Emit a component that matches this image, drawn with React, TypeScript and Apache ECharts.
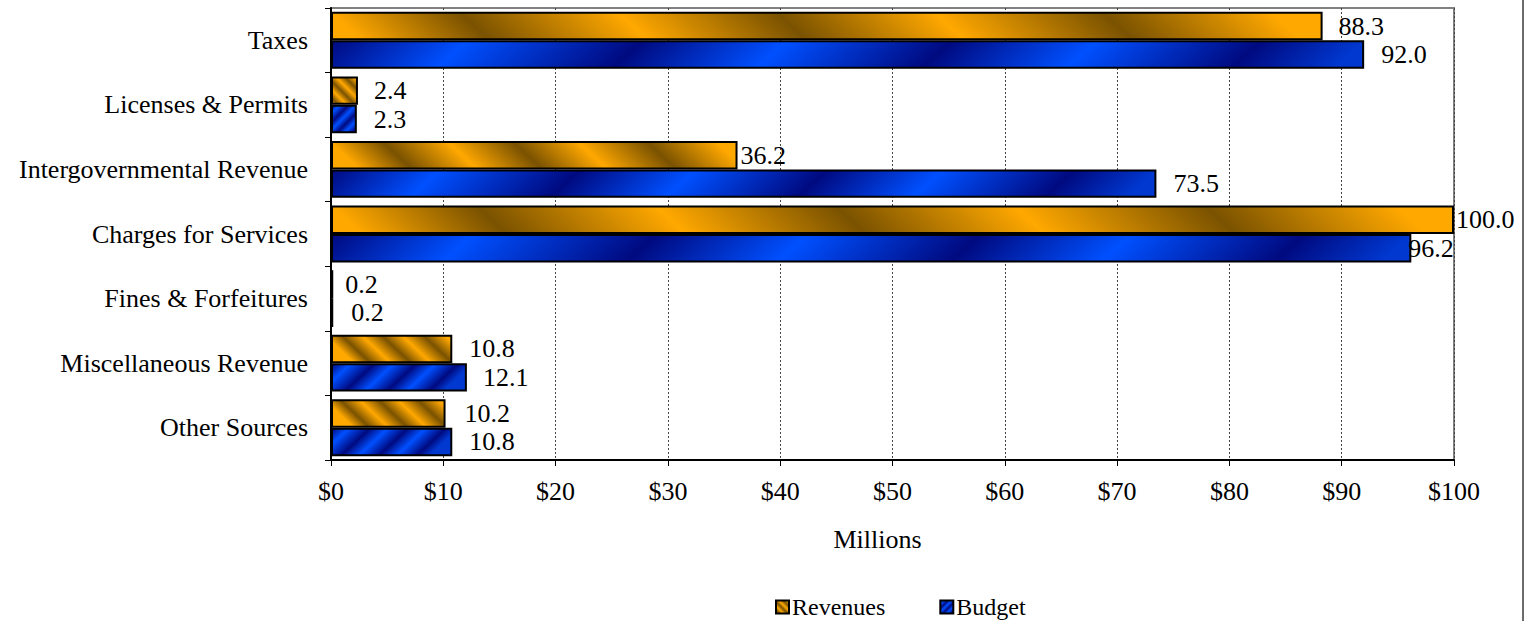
import React, { useEffect, useRef } from "react";
import * as echarts from "echarts";

const categories = [
  "Taxes",
  "Licenses & Permits",
  "Intergovernmental Revenue",
  "Charges for Services",
  "Fines & Forfeitures",
  "Miscellaneous Revenue",
  "Other Sources",
];
const revenues = [88.3, 2.4, 36.2, 100.0, 0.2, 10.8, 10.2];
const budget = [92.0, 2.3, 73.5, 96.2, 0.2, 12.1, 10.8];
const seriesNames = ["Revenues", "Budget"];
const axisTitle = "Millions";

// label nudges (pixels from bar end), as in the original layout
const revenueLabelGap = [16, 16, 3, 2, 12, 17, 19];
const budgetLabelGap = [17, 17, 17, -3, 18, 16, 17];

const FONT = "'Liberation Serif', 'Times New Roman', serif";
const PX_PER_UNIT = 11.23;
const BAR_H = 28.5;

const ORANGE_L = "#FFA800";
const ORANGE_D = "#7A5200";
const BLUE_L = "#0050FF";
const BLUE_D = "#000A80";

function orangeGrad(r: number) {
  // "\" stripes
  return new echarts.graphic.LinearGradient(0, r, 1, 0, [
    { offset: 0, color: ORANGE_L },
    { offset: 0.13, color: ORANGE_D },
    { offset: 0.29, color: ORANGE_L },
    { offset: 0.45, color: ORANGE_D },
    { offset: 0.61, color: ORANGE_L },
    { offset: 0.78, color: ORANGE_D },
    { offset: 0.95, color: ORANGE_L },
    { offset: 1, color: ORANGE_L },
  ]);
}
function blueGrad(r: number) {
  // "/" stripes
  return new echarts.graphic.LinearGradient(0, 0, 1, r, [
    { offset: 0, color: BLUE_D },
    { offset: 0.13, color: BLUE_L },
    { offset: 0.3, color: BLUE_D },
    { offset: 0.44, color: BLUE_L },
    { offset: 0.6, color: BLUE_D },
    { offset: 0.74, color: BLUE_L },
    { offset: 0.9, color: BLUE_D },
    { offset: 1, color: "#0038D0" },
  ]);
}

function ratio(v: number) {
  const w = Math.max(v * PX_PER_UNIT, 1);
  return BAR_H / w;
}

export default function App() {
  const ref = useRef<HTMLDivElement>(null);
  useEffect(() => {
    if (!ref.current) return;
    const chart = echarts.init(ref.current, undefined, { renderer: "svg" });
    const labelBase = {
      show: true,
      position: "right",
      color: "#000",
      fontFamily: FONT,
      fontSize: 26,
      formatter: (p: any) => Number(p.value).toFixed(1),
    };
    chart.setOption({
      animation: false,
      textStyle: { fontFamily: FONT, color: "#000" },
      grid: {
        left: 331,
        right: 78,
        top: 8,
        bottom: 161,
        show: true,
        borderColor: "#808080",
        borderWidth: 2,
        backgroundColor: "transparent",
      },
      legend: {
        data: seriesNames,
        left: 770,
        top: 590,
        itemWidth: 13,
        itemHeight: 13,
        itemGap: 54,
        icon: "rect",
        textStyle: { fontFamily: FONT, fontSize: 24, color: "#000", padding: [0, 0, 0, -2] },
        itemStyle: { borderColor: "#000", borderWidth: 2 },
      },
      xAxis: {
        type: "value",
        min: 0,
        max: 100,
        interval: 10,
        name: axisTitle,
        nameLocation: "middle",
        nameGap: 66,
        nameTextStyle: { fontFamily: FONT, fontSize: 26, color: "#000", padding: [0, 30, 0, 0] },
        axisLine: { show: true, lineStyle: { color: "#000", width: 2 } },
        axisTick: { show: true, length: 6, lineStyle: { color: "#000" } },
        axisLabel: {
          fontFamily: FONT,
          fontSize: 26,
          color: "#000",
          margin: 18,
          formatter: (v: number) => "$" + v,
        },
        splitLine: {
          show: true,
          lineStyle: { color: "#444", type: [2, 2], width: 1 },
        },
      },
      yAxis: {
        type: "category",
        data: categories,
        inverse: true,
        axisLine: { show: true, lineStyle: { color: "#000", width: 2 } },
        axisTick: { show: true, length: 6, lineStyle: { color: "#000" } },
        axisLabel: { fontFamily: FONT, fontSize: 26, color: "#000", margin: 23 },
        splitLine: { show: false },
      },
      series: [
        {
          name: seriesNames[0],
          type: "bar",
          barGap: "0%",
          barCategoryGap: "12%",
          itemStyle: { color: orangeGrad(1), borderColor: "#000", borderWidth: 2 },
          label: labelBase,
          data: revenues.map((v, i) => ({
            value: v,
            itemStyle: { color: orangeGrad(ratio(v)) },
            label: { distance: revenueLabelGap[i] },
          })),
        },
        {
          name: seriesNames[1],
          type: "bar",
          barGap: "0%",
          barCategoryGap: "12%",
          itemStyle: { color: blueGrad(1), borderColor: "#000", borderWidth: 2 },
          label: labelBase,
          data: budget.map((v, i) => ({
            value: v,
            itemStyle: { color: blueGrad(ratio(v)) },
            label: { distance: budgetLabelGap[i] },
          })),
        },
      ],
      graphic: [
        {
          type: "line",
          shape: { x1: 1523, y1: 0, x2: 1523, y2: 621 },
          style: { stroke: "#3a3a3a", lineWidth: 1.5 },
        },
      ],
    });
    return () => chart.dispose();
  }, []);
  return (
    <div
      ref={ref}
      style={{ position: "fixed", left: 0, top: 0, width: 1532, height: 621, background: "#fff" }}
    />
  );
}
